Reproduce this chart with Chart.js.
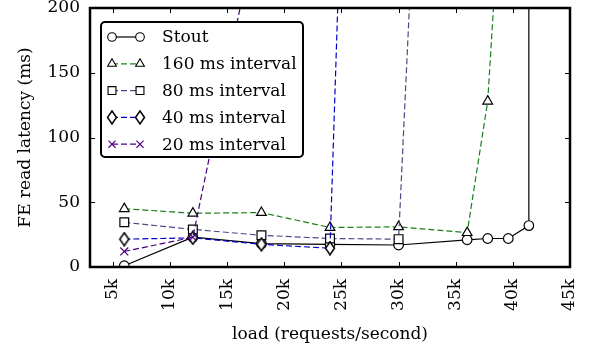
<!DOCTYPE html>
<html>
<head>
<meta charset="utf-8">
<script src="https://cdn.jsdelivr.net/npm/chart.js@4.4.0/dist/chart.umd.min.js"></script>
<style>
  html, body { margin: 0; padding: 0; background: #fff; }
  #wrap { width: 589px; height: 354px; }
</style>
</head>
<body>
<div id="wrap"><canvas id="c" width="589" height="354"></canvas></div>
<script>
// values (load in req/s, latency in ms)
const stoutLoad = [6000, 12000, 18000, 24000, 30000, 36000, 37800, 39600, 41400, 41400];
const stoutLatency = [1, 23, 18, 17.5, 17, 21, 22, 22, 32, 1000];

const load160 = [6000, 12000, 18000, 24000, 30000, 36000, 37800, 39000];
const latency160 = [45, 41.5, 42, 30.5, 31, 26.5, 128, 300];

const load80 = [6000, 12000, 18000, 24000, 30000, 32000];
const latency80 = [34.5, 29, 24.5, 22, 21.5, 400];

const load40 = [6000, 12000, 18000, 24000, 25000];
const latency40 = [21.5, 22.5, 17.5, 14.5, 290];

const load20 = [6000, 12000, 18000];
const latency20 = [12, 23, 280];

const xTickValues = [5000, 10000, 15000, 20000, 25000, 30000, 35000, 40000, 45000];
const xTickLabels = ['5k', '10k', '15k', '20k', '25k', '30k', '35k', '40k', '45k'];

const FONT = 'DejaVu Serif';

function pts(xs, ys) { return xs.map((x, i) => ({ x, y: ys[i] })); }

function makeDiamond() {
  const c = document.createElement('canvas');
  c.width = 12; c.height = 15;
  const g = c.getContext('2d');
  g.beginPath();
  g.moveTo(6, 1); g.lineTo(10.5, 7.5); g.lineTo(6, 14); g.lineTo(1.5, 7.5);
  g.closePath();
  g.fillStyle = '#fff'; g.fill();
  g.lineWidth = 1.5; g.strokeStyle = '#000'; g.stroke();
  return c;
}
const diamond = makeDiamond();

const series = [
  { label: 'Stout', data: pts(stoutLoad, stoutLatency), color: '#000', dash: [], style: 'circle', r: 4.8, mk: '#000', order: 5 },
  { label: '160 ms interval', data: pts(load160, latency160), color: '#1a7f1a', dash: [6, 3], style: 'triangle', r: 5.6, mk: '#000', order: 4 },
  { label: '80 ms interval', data: pts(load80, latency80), color: '#4a4a86', dash: [6, 3], style: 'rect', r: 6.2, mk: '#000', order: 3 },
  { label: '40 ms interval', data: pts(load40, latency40), color: '#0000cc', dash: [6, 3], style: diamond, r: 6, mk: '#000', order: 2 },
  { label: '20 ms interval', data: pts(load20, latency20), color: '#4b0082', dash: [6, 3], style: 'crossRot', r: 5.6, mk: '#4b0082', order: 1 }
];

// no auto padding from the tick labels, the layout padding decides the plot box
function noPad(s) {
  s.paddingTop = 0; s.paddingBottom = 0; s.paddingLeft = 0; s.paddingRight = 0;
}

const framePlugin = {
  id: 'frame',
  afterDatasetsDraw(chart) {
    const { ctx, chartArea: a, scales: { x, y } } = chart;
    const len = 5;
    ctx.save();
    ctx.strokeStyle = '#000';
    ctx.lineWidth = 1;
    ctx.beginPath();
    x.ticks.forEach(t => {
      const px = Math.round(x.getPixelForValue(t.value)) + 0.5;
      ctx.moveTo(px, a.bottom); ctx.lineTo(px, a.bottom - len);
      ctx.moveTo(px, a.top); ctx.lineTo(px, a.top + len);
    });
    y.ticks.forEach(t => {
      const py = Math.round(y.getPixelForValue(t.value)) + 0.5;
      ctx.moveTo(a.left, py); ctx.lineTo(a.left + len, py);
      ctx.moveTo(a.right, py); ctx.lineTo(a.right - len, py);
    });
    ctx.stroke();
    ctx.lineWidth = 2.5;
    ctx.strokeRect(a.left, a.top, a.right - a.left, a.bottom - a.top);
    ctx.restore();
  }
};

const legendPlugin = {
  id: 'boxLegend',
  afterDatasetsDraw(chart) {
    const { ctx, chartArea: a } = chart;
    const bx = a.left + 11, by = a.top + 14, bw = 202, bh = 135;
    ctx.save();
    ctx.beginPath();
    ctx.roundRect(bx, by, bw, bh, 4);
    ctx.fillStyle = '#fff';
    ctx.fill();
    ctx.lineWidth = 2;
    ctx.strokeStyle = '#000';
    ctx.stroke();
    series.forEach((s, i) => {
      const yy = by + 15 + i * 26.8;
      const x0 = bx + 11, x1 = bx + 39;
      ctx.beginPath();
      ctx.setLineDash(s.dash);
      ctx.lineWidth = 1.2;
      ctx.strokeStyle = s.color;
      ctx.moveTo(x0, yy); ctx.lineTo(x1, yy);
      ctx.stroke();
      ctx.setLineDash([]);
      [x0, x1].forEach(px => {
        ctx.fillStyle = '#fff';
        ctx.strokeStyle = s.mk;
        ctx.lineWidth = 1.1;
        Chart.helpers.drawPoint(ctx, { pointStyle: s.style, radius: s.r * 0.9, rotation: 0, borderWidth: 1.1 }, px, yy);
      });
      ctx.fillStyle = '#000';
      ctx.font = '17px "' + FONT + '"';
      ctx.textBaseline = 'middle';
      ctx.textAlign = 'left';
      ctx.fillText(s.label, bx + 61, yy + 1);
    });
    ctx.restore();
  }
};

new Chart(document.getElementById('c'), {
  type: 'line',
  data: {
    datasets: series.map(s => ({
      label: s.label,
      data: s.data,
      order: s.order,
      borderColor: s.color,
      borderWidth: 1.2,
      borderDash: s.dash,
      pointStyle: s.style,
      pointRadius: s.r,
      pointHoverRadius: s.r,
      pointBackgroundColor: '#fff',
      pointBorderColor: s.mk,
      pointBorderWidth: 1.2,
      fill: false,
      tension: 0
    }))
  },
  options: {
    responsive: false,
    animation: false,
    devicePixelRatio: 1,
    events: [],
    layout: { padding: { top: 8, right: 19, bottom: 0, left: 0 } },
    plugins: { legend: { display: false }, tooltip: { enabled: false } },
    scales: {
      x: {
        type: 'linear',
        min: 3000,
        max: 45000,
        afterFit: s => { s.height = 87; noPad(s); },
        afterBuildTicks: s => { s.ticks = xTickValues.map(v => ({ value: v })); },
        grid: { display: false, drawTicks: false },
        border: { display: false },
        ticks: {
          minRotation: 90, maxRotation: 90, padding: 12, color: '#000',
          font: { family: FONT, size: 17 },
          callback: v => xTickLabels[xTickValues.indexOf(v)]
        },
        title: { display: true, text: 'load (requests/second)', color: '#000', font: { family: FONT, size: 17 }, padding: { top: 0, bottom: 9 } }
      },
      y: {
        min: 0,
        max: 200,
        afterFit: s => { s.width = 90; noPad(s); },
        grid: { display: false, drawTicks: false },
        border: { display: false },
        ticks: { stepSize: 50, padding: 10, color: '#000', font: { family: FONT, size: 17 } },
        title: { display: true, text: 'FE read latency (ms)', color: '#000', font: { family: FONT, size: 17 }, padding: { top: 15, bottom: 0 } }
      }
    }
  },
  plugins: [framePlugin, legendPlugin]
});
</script>
</body>
</html>
